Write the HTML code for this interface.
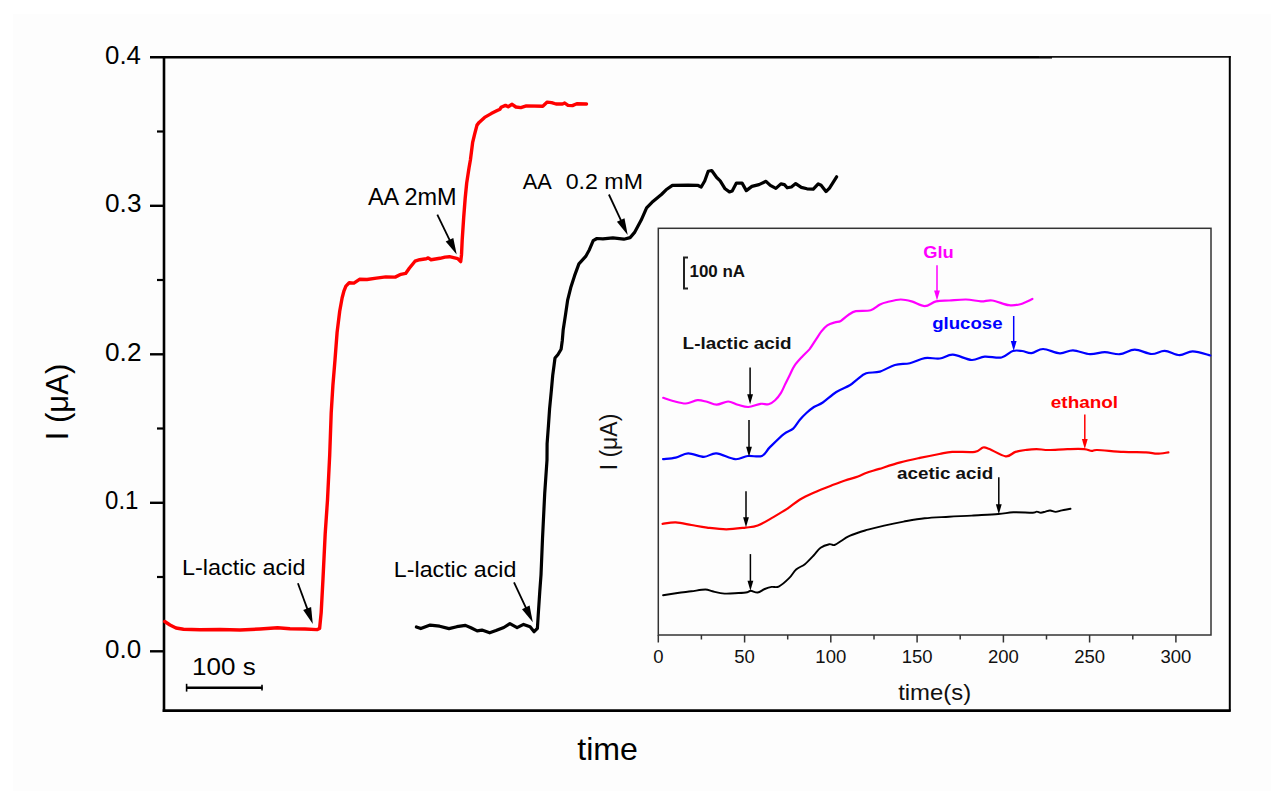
<!DOCTYPE html>
<html><head><meta charset="utf-8"><style>
html,body{margin:0;padding:0;background:#fff;}
svg{display:block;font-family:"Liberation Sans",sans-serif;}
</style></head><body>
<svg width="1276" height="802" viewBox="0 0 1276 802">
<rect width="1276" height="802" fill="#fff"/>
<rect x="13" y="14" width="1258" height="777" fill="#fdfdfd"/>
<line x1="164.0" y1="56.099999999999994" x2="164.0" y2="711.9" stroke="#000" stroke-width="2.6"/>
<line x1="162.7" y1="710.6" x2="1230.6" y2="710.6" stroke="#000" stroke-width="2.6"/>
<line x1="150" y1="57.3" x2="1052" y2="57.3" stroke="#000" stroke-width="2.4"/>
<line x1="1039" y1="56.9" x2="1230.6" y2="56.9" stroke="#111" stroke-width="1.8"/>
<line x1="1229.8" y1="56.099999999999994" x2="1229.8" y2="711.6" stroke="#000" stroke-width="2"/>
<line x1="150" y1="651.3" x2="164.0" y2="651.3" stroke="#000" stroke-width="2.4"/>
<text x="105.06" y="657.90" font-size="26" font-weight="normal" fill="#000" textLength="36.18" lengthAdjust="spacingAndGlyphs" >0.0</text>
<line x1="150" y1="502.8" x2="164.0" y2="502.8" stroke="#000" stroke-width="2.4"/>
<text x="105.06" y="509.40" font-size="26" font-weight="normal" fill="#000" textLength="33.44" lengthAdjust="spacingAndGlyphs" >0.1</text>
<line x1="150" y1="354.3" x2="164.0" y2="354.3" stroke="#000" stroke-width="2.4"/>
<text x="105.06" y="360.90" font-size="26" font-weight="normal" fill="#000" textLength="36.44" lengthAdjust="spacingAndGlyphs" >0.2</text>
<line x1="150" y1="205.8" x2="164.0" y2="205.8" stroke="#000" stroke-width="2.4"/>
<text x="105.06" y="212.40" font-size="26" font-weight="normal" fill="#000" textLength="36.44" lengthAdjust="spacingAndGlyphs" >0.3</text>
<text x="105.06" y="63.90" font-size="26" font-weight="normal" fill="#000" textLength="35.92" lengthAdjust="spacingAndGlyphs" >0.4</text>
<line x1="157" y1="577.0" x2="164.0" y2="577.0" stroke="#000" stroke-width="2.2"/>
<line x1="157" y1="428.5" x2="164.0" y2="428.5" stroke="#000" stroke-width="2.2"/>
<line x1="157" y1="280.0" x2="164.0" y2="280.0" stroke="#000" stroke-width="2.2"/>
<line x1="157" y1="131.5" x2="164.0" y2="131.5" stroke="#000" stroke-width="2.2"/>
<text transform="translate(68,402) rotate(-90)" font-size="31" text-anchor="middle" fill="#000">I (μA)</text>
<text x="577.28" y="760.10" font-size="32" font-weight="normal" fill="#000" textLength="60.69" lengthAdjust="spacingAndGlyphs" >time</text>
<line x1="186" y1="687.7" x2="262.5" y2="687.7" stroke="#000" stroke-width="2.6"/>
<line x1="186.6" y1="683.8" x2="186.6" y2="691.6" stroke="#000" stroke-width="1.6"/>
<line x1="262" y1="684.8" x2="262" y2="690.6" stroke="#000" stroke-width="1.6"/>
<text x="192.13" y="675.00" font-size="24.6" font-weight="normal" fill="#000" textLength="63.56" lengthAdjust="spacingAndGlyphs" >100 s</text>
<polyline points="164.7,621.5 170.0,625.0 176.0,628.0 183.5,629.2 200.0,629.8 220.0,629.5 240.0,630.0 260.0,629.0 277.5,627.8 290.0,628.8 305.0,629.0 317.0,629.6 319.6,628.5 321.2,612.3 323.0,578.6 325.2,533.7 327.5,500.0 329.7,455.0 331.2,412.9 332.9,385.3 335.0,359.9 337.1,332.4 339.7,311.2 342.1,298.0 344.0,290.8 345.9,286.1 349.2,282.8 353.9,283.1 359.5,279.3 367.0,279.5 376.4,278.1 385.8,276.9 395.2,277.1 400.9,274.3 405.6,273.4 409.3,268.2 415.0,261.2 419.7,259.7 426.3,258.8 428.2,257.9 431.0,259.7 440.0,258.3 445.0,257.1 449.5,256.7 457.7,258.6 460.7,261.6 461.5,254.9 462.2,239.9 463.7,217.4 465.2,198.0 466.7,183.0 469.0,168.0 470.4,160.0 472.6,142.7 474.7,133.9 477.0,125.1 479.1,122.4 484.6,117.4 491.2,113.6 496.7,110.8 500.0,109.2 501.1,107.3 505.5,105.4 508.2,106.7 512.1,104.3 515.9,107.0 520.8,107.6 526.3,105.9 542.8,106.2 547.2,102.1 551.6,102.6 556.0,104.0 562.5,104.0 564.7,103.0 568.0,105.4 572.4,105.6 576.8,103.7 586.5,104.0" fill="none" stroke="#ff0000" stroke-width="3.4" stroke-linejoin="round" stroke-linecap="round"/>
<polyline points="416.4,627.0 420.8,628.6 430.2,625.1 439.6,626.2 449.0,628.6 456.8,626.7 465.4,625.4 470.9,627.8 477.2,630.9 481.9,630.1 489.7,632.8 496.0,630.6 503.8,627.5 509.9,623.6 517.1,627.6 523.6,624.4 530.1,626.8 534.1,631.7 537.4,628.4 538.2,615.5 539.8,591.2 541.0,575.0 542.5,538.7 544.7,493.7 547.0,460.0 547.1,443.6 548.4,426.2 549.6,408.7 551.3,391.2 552.7,375.5 554.1,365.0 555.0,358.0 558.0,354.5 561.1,349.2 562.3,340.5 563.2,329.7 565.5,314.8 567.7,299.8 570.7,287.8 574.5,275.9 578.9,263.9 585.7,256.4 589.4,249.7 593.2,240.7 596.9,238.5 602.9,238.8 612.9,237.9 623.8,239.2 630.1,237.6 634.8,232.1 641.1,220.3 646.6,207.8 652.0,202.3 661.4,194.5 666.1,189.8 672.4,185.4 688.1,185.1 697.6,185.3 701.2,187.0 704.7,181.0 708.2,171.2 711.7,170.5 716.7,177.5 720.2,180.8 725.1,188.8 729.4,191.9 732.2,190.9 736.4,183.1 742.1,183.1 746.3,190.6 751.9,186.4 759.0,184.6 766.0,181.3 770.3,185.3 775.9,188.4 780.9,183.9 784.4,184.6 787.2,187.8 791.4,187.0 795.7,183.6 801.3,187.4 807.0,188.8 813.3,189.2 818.2,183.9 821.1,185.3 826.0,191.6 829.5,188.1 836.6,176.8" fill="none" stroke="#000" stroke-width="3.2" stroke-linejoin="round" stroke-linecap="round"/>
<text x="181.99" y="574.50" font-size="22.6" font-weight="normal" fill="#000" textLength="123.48" lengthAdjust="spacingAndGlyphs" >L-lactic acid</text>
<line x1="297.9" y1="583.2" x2="307.5" y2="609.4" stroke="#000" stroke-width="1.8"/><polygon points="312.8,624.0 303.2,609.9 311.1,607.1" fill="#000"/>
<text x="393.89" y="576.80" font-size="22.6" font-weight="normal" fill="#000" textLength="122.48" lengthAdjust="spacingAndGlyphs" >L-lactic acid</text>
<line x1="514.0" y1="582.3" x2="526.2" y2="608.3" stroke="#000" stroke-width="1.8"/><polygon points="532.8,622.3 522.0,609.2 529.6,605.6" fill="#000"/>
<text x="367.90" y="205.00" font-size="23.3" font-weight="normal" fill="#000" textLength="88.73" lengthAdjust="spacingAndGlyphs" >AA 2mM</text>
<line x1="437.3" y1="214.7" x2="449.9" y2="240.7" stroke="#000" stroke-width="1.8"/><polygon points="456.7,254.6 445.7,241.6 453.3,237.9" fill="#000"/>
<text x="522.70" y="189.00" font-size="22" font-weight="normal" fill="#000" textLength="29.09" lengthAdjust="spacingAndGlyphs" >AA</text>
<text x="565.72" y="189.00" font-size="22" font-weight="normal" fill="#000" textLength="77.22" lengthAdjust="spacingAndGlyphs" >0.2 mM</text>
<line x1="608.9" y1="194.5" x2="621.2" y2="220.8" stroke="#000" stroke-width="1.8"/><polygon points="627.7,234.9 616.9,221.7 624.5,218.2" fill="#000"/>
<rect x="658.3" y="228.3" width="552.7" height="406.7" fill="none" stroke="#333" stroke-width="1.5"/>
<line x1="658.3" y1="635.0" x2="658.3" y2="642.5" stroke="#333" stroke-width="1.5"/>
<text x="658.3" y="662.8" font-size="18.5" text-anchor="middle" fill="#111">0</text>
<line x1="701.4" y1="635.0" x2="701.4" y2="639.5" stroke="#333" stroke-width="1.5"/>
<line x1="744.6" y1="635.0" x2="744.6" y2="642.5" stroke="#333" stroke-width="1.5"/>
<text x="744.6" y="662.8" font-size="18.5" text-anchor="middle" fill="#111">50</text>
<line x1="787.7" y1="635.0" x2="787.7" y2="639.5" stroke="#333" stroke-width="1.5"/>
<line x1="830.8" y1="635.0" x2="830.8" y2="642.5" stroke="#333" stroke-width="1.5"/>
<text x="830.8" y="662.8" font-size="18.5" text-anchor="middle" fill="#111">100</text>
<line x1="874.0" y1="635.0" x2="874.0" y2="639.5" stroke="#333" stroke-width="1.5"/>
<line x1="917.1" y1="635.0" x2="917.1" y2="642.5" stroke="#333" stroke-width="1.5"/>
<text x="917.1" y="662.8" font-size="18.5" text-anchor="middle" fill="#111">150</text>
<line x1="960.2" y1="635.0" x2="960.2" y2="639.5" stroke="#333" stroke-width="1.5"/>
<line x1="1003.4" y1="635.0" x2="1003.4" y2="642.5" stroke="#333" stroke-width="1.5"/>
<text x="1003.4" y="662.8" font-size="18.5" text-anchor="middle" fill="#111">200</text>
<line x1="1046.5" y1="635.0" x2="1046.5" y2="639.5" stroke="#333" stroke-width="1.5"/>
<line x1="1089.6" y1="635.0" x2="1089.6" y2="642.5" stroke="#333" stroke-width="1.5"/>
<text x="1089.6" y="662.8" font-size="18.5" text-anchor="middle" fill="#111">250</text>
<line x1="1132.8" y1="635.0" x2="1132.8" y2="639.5" stroke="#333" stroke-width="1.5"/>
<line x1="1175.9" y1="635.0" x2="1175.9" y2="642.5" stroke="#333" stroke-width="1.5"/>
<text x="1175.9" y="662.8" font-size="18.5" text-anchor="middle" fill="#111">300</text>
<text x="898.17" y="699.80" font-size="22.5" font-weight="normal" fill="#111" textLength="72.99" lengthAdjust="spacingAndGlyphs" >time(s)</text>
<text transform="translate(617,442) rotate(-90)" font-size="23" text-anchor="middle" fill="#111">I (μA)</text>
<path d="M688,257.5 H684 V288.6 H688" fill="none" stroke="#222" stroke-width="2"/>
<text x="689.51" y="277.40" font-size="16.5" font-weight="bold" fill="#111" textLength="55.60" lengthAdjust="spacingAndGlyphs" >100 nA</text>
<path d="M663.2,397.8 C664.8,398.3 669.2,400.1 673.0,401.0 C676.8,401.9 681.9,403.6 685.9,403.5 C689.9,403.4 693.8,400.5 697.3,400.2 C700.8,399.9 703.8,401.1 707.0,401.8 C710.2,402.6 713.2,404.8 716.7,404.7 C720.2,404.6 724.6,401.5 728.1,401.5 C731.6,401.5 734.4,403.8 737.8,404.7 C741.2,405.6 744.5,407.1 748.3,407.0 C752.1,406.9 757.1,404.2 760.5,403.8 C763.9,403.4 766.2,404.9 768.6,404.3 C771.0,403.7 773.0,402.1 775.1,400.2 C777.2,398.3 779.3,395.5 781.0,392.8 C782.7,390.1 783.9,386.8 785.4,383.8 C786.9,380.8 788.4,377.8 789.9,374.8 C791.4,371.8 792.4,368.8 794.4,365.8 C796.4,362.8 799.4,359.6 801.9,356.9 C804.4,354.2 807.1,352.1 809.4,349.4 C811.6,346.6 813.4,343.4 815.4,340.4 C817.4,337.4 819.4,333.9 821.4,331.4 C823.4,328.9 825.1,326.9 827.3,325.4 C829.5,323.9 832.5,323.1 834.8,322.4 C837.0,321.6 838.5,322.1 840.8,320.9 C843.0,319.7 845.8,316.6 848.3,315.0 C850.8,313.4 852.1,312.0 855.8,311.2 C859.5,310.4 866.7,311.3 870.7,310.2 C874.7,309.1 877.2,305.9 880.0,304.5 C882.8,303.1 884.0,302.8 887.4,302.0 C890.8,301.2 896.5,299.6 900.5,299.5 C904.5,299.4 907.7,300.3 911.7,301.4 C915.8,302.5 920.7,306.1 924.8,306.1 C928.9,306.1 932.0,302.3 936.1,301.4 C940.2,300.5 944.2,300.8 949.2,300.5 C954.2,300.2 960.7,299.4 966.0,299.5 C971.3,299.6 976.6,301.2 981.0,301.4 C985.4,301.6 987.5,299.9 992.2,300.5 C996.9,301.1 1004.3,304.6 1009.0,305.2 C1013.7,305.8 1016.4,305.2 1020.3,304.2 C1024.2,303.2 1030.4,299.9 1032.4,299.0" fill="none" stroke="#ff00ff" stroke-width="2.2" stroke-linejoin="round" stroke-linecap="round"/>
<path d="M663.1,459.2 C665.2,458.9 671.5,458.6 675.7,457.6 C679.9,456.6 683.5,453.5 688.2,453.4 C692.9,453.3 699.2,456.8 703.9,456.8 C708.6,456.8 711.2,453.0 716.4,453.4 C721.6,453.8 730.0,458.8 735.2,459.2 C740.4,459.6 743.3,456.5 747.8,456.0 C752.2,455.5 758.2,457.4 761.9,456.0 C765.5,454.6 766.1,451.0 769.7,447.4 C773.4,443.8 779.9,437.2 783.8,434.1 C787.7,431.0 790.6,431.0 793.2,428.6 C795.9,426.2 797.5,422.6 799.7,420.0 C801.9,417.4 804.0,415.2 806.4,413.0 C808.8,410.8 811.2,408.8 813.9,407.0 C816.6,405.2 819.1,405.0 822.8,402.5 C826.5,400.0 831.8,394.9 836.3,392.0 C840.8,389.1 846.3,387.4 849.8,385.3 C853.3,383.2 854.6,381.3 857.3,379.3 C860.0,377.3 862.4,374.6 866.2,373.3 C870.0,372.0 875.1,373.0 879.9,371.6 C884.7,370.2 889.9,366.4 894.9,365.0 C899.9,363.6 904.9,364.3 909.9,363.2 C914.9,362.1 919.8,358.9 924.8,358.1 C929.8,357.3 935.1,359.1 939.8,358.5 C944.5,357.9 947.6,354.4 952.9,354.7 C958.2,354.9 966.3,359.7 971.6,360.0 C976.9,360.3 979.7,357.0 984.7,356.6 C989.7,356.2 996.8,358.4 1001.5,357.5 C1006.2,356.6 1009.4,352.1 1012.8,351.0 C1016.2,349.9 1019.0,350.6 1022.1,351.0 C1025.2,351.4 1028.0,353.5 1031.5,353.2 C1035.0,352.9 1038.4,349.0 1043.1,349.0 C1047.8,349.0 1054.9,353.1 1059.9,353.3 C1064.9,353.5 1068.0,350.2 1073.0,350.3 C1078.0,350.4 1084.6,353.9 1089.9,354.2 C1095.2,354.5 1099.8,352.2 1104.8,352.2 C1109.8,352.2 1114.8,354.6 1119.8,354.2 C1124.8,353.8 1129.5,349.6 1134.8,349.6 C1140.1,349.6 1146.6,353.8 1151.6,354.0 C1156.6,354.2 1160.0,350.7 1164.7,350.9 C1169.4,351.1 1174.9,355.1 1179.6,355.2 C1184.3,355.3 1187.6,351.3 1192.7,351.4 C1197.8,351.4 1207.4,354.8 1210.3,355.5" fill="none" stroke="#0000ff" stroke-width="2.2" stroke-linejoin="round" stroke-linecap="round"/>
<path d="M662.6,523.8 C664.8,523.6 670.9,522.2 675.7,522.4 C680.5,522.6 686.2,524.1 691.4,525.0 C696.6,525.9 701.3,526.9 707.1,527.6 C712.9,528.3 719.9,529.3 726.3,529.3 C732.7,529.3 740.3,528.2 745.5,527.6 C750.7,527.0 753.1,527.2 757.7,525.5 C762.4,523.8 768.5,519.9 773.4,517.1 C778.3,514.3 783.0,511.6 787.4,508.7 C791.8,505.8 795.2,502.4 799.6,499.7 C804.0,497.0 808.4,495.0 813.6,492.7 C818.8,490.4 825.8,487.7 831.0,485.7 C836.2,483.7 840.5,482.0 845.0,480.5 C849.5,479.0 854.5,477.8 858.0,476.5 C861.5,475.2 862.5,474.3 866.0,473.0 C869.5,471.7 873.6,470.7 879.3,468.9 C885.0,467.1 893.6,464.2 900.4,462.4 C907.1,460.6 913.3,459.3 919.8,457.9 C926.3,456.5 933.9,455.0 939.3,454.0 C944.7,453.0 946.3,452.2 952.2,451.9 C958.1,451.5 969.8,452.6 974.9,451.9 C980.0,451.2 980.6,448.0 983.0,447.5 C985.4,447.0 985.7,447.6 989.5,449.1 C993.3,450.6 1001.4,455.8 1005.7,456.3 C1010.0,456.8 1012.0,453.0 1015.5,451.9 C1019.0,450.8 1023.3,450.3 1026.8,449.8 C1030.3,449.3 1032.8,449.1 1036.5,449.1 C1040.2,449.1 1043.5,450.0 1048.7,450.0 C1053.9,450.0 1061.5,449.2 1067.4,449.1 C1073.3,449.0 1080.2,448.8 1084.2,449.1 C1088.2,449.4 1089.5,450.8 1091.7,450.9 C1093.9,451.0 1092.0,449.8 1097.3,450.0 C1102.6,450.2 1115.4,451.5 1123.5,451.9 C1131.6,452.3 1140.4,452.1 1146.0,452.4 C1151.6,452.7 1153.5,453.7 1157.2,453.7 C1160.9,453.7 1166.5,452.6 1168.4,452.4" fill="none" stroke="#ff0000" stroke-width="2.2" stroke-linejoin="round" stroke-linecap="round"/>
<path d="M663.1,595.3 C665.5,594.9 672.8,593.7 677.5,593.0 C682.2,592.3 686.8,591.9 691.4,591.3 C696.0,590.7 701.9,589.5 705.4,589.5 C708.9,589.5 709.2,590.6 712.4,591.3 C715.6,592.0 720.2,593.3 724.6,593.6 C729.0,593.9 734.7,593.2 738.5,593.0 C742.3,592.8 745.2,592.6 747.3,592.2 C749.3,591.8 749.1,590.8 750.8,590.8 C752.5,590.8 755.4,592.8 757.7,592.5 C760.0,592.2 762.4,589.9 764.7,589.0 C767.0,588.1 769.4,587.3 771.7,586.9 C774.0,586.5 775.8,588.0 778.7,586.6 C781.6,585.2 786.2,581.1 789.1,578.2 C792.0,575.4 793.5,571.8 796.1,569.5 C798.7,567.2 802.0,566.5 804.9,564.2 C807.8,561.9 811.0,558.2 813.6,555.5 C816.2,552.8 818.0,549.6 820.6,547.7 C823.2,545.8 827.0,544.7 829.3,544.2 C831.6,543.8 832.5,545.6 834.5,545.0 C836.5,544.4 839.2,542.2 841.5,540.7 C843.8,539.2 845.4,537.8 848.5,536.3 C851.6,534.8 856.8,533.1 860.0,532.0 C863.2,530.9 864.0,530.8 868.0,529.7 C872.0,528.6 878.3,527.0 884.2,525.6 C890.1,524.2 896.9,522.8 903.6,521.6 C910.4,520.4 917.1,519.1 924.7,518.3 C932.3,517.5 941.2,517.2 949.0,516.7 C956.8,516.2 963.5,516.1 971.7,515.6 C979.9,515.1 991.5,514.5 998.4,514.0 C1005.3,513.5 1007.5,512.5 1013.3,512.3 C1019.0,512.1 1029.0,512.8 1032.9,512.7 C1036.8,512.6 1035.5,511.6 1036.8,511.6 C1038.1,511.6 1039.3,512.7 1040.8,512.7 C1042.2,512.7 1043.9,512.0 1045.5,511.6 C1047.1,511.2 1048.5,510.4 1050.2,510.5 C1051.9,510.6 1053.6,511.9 1055.6,511.9 C1057.5,511.9 1059.4,510.9 1061.9,510.4 C1064.4,509.9 1069.1,509.1 1070.5,508.8" fill="none" stroke="#000" stroke-width="1.9" stroke-linejoin="round" stroke-linecap="round"/>
<text x="682.61" y="348.50" font-size="17" font-weight="bold" fill="#111" textLength="109.00" lengthAdjust="spacingAndGlyphs" >L-lactic acid</text>
<line x1="750.1" y1="367.5" x2="750.1" y2="395.3" stroke="#000" stroke-width="1.5"/><polygon points="750.1,404.3 747.2,394.3 753.0,394.3" fill="#000"/>
<line x1="749.0" y1="420.0" x2="749.0" y2="447.8" stroke="#000" stroke-width="1.5"/><polygon points="749.0,456.8 746.1,446.8 751.9,446.8" fill="#000"/>
<line x1="746.0" y1="491.3" x2="746.0" y2="518.2" stroke="#000" stroke-width="1.5"/><polygon points="746.0,527.2 743.1,517.2 748.9,517.2" fill="#000"/>
<line x1="750.4" y1="554.1" x2="750.4" y2="581.8" stroke="#000" stroke-width="1.5"/><polygon points="750.4,590.8 747.5,580.8 753.3,580.8" fill="#000"/>
<line x1="937.0" y1="265.3" x2="937.0" y2="291.5" stroke="#ff00ff" stroke-width="1.5"/><polygon points="937.0,300.5 934.1,290.5 939.9,290.5" fill="#ff00ff"/>
<line x1="1013.7" y1="316.0" x2="1013.7" y2="342.0" stroke="#0000ff" stroke-width="1.5"/><polygon points="1013.7,351.0 1010.8,341.0 1016.6,341.0" fill="#0000ff"/>
<line x1="1084.8" y1="414.5" x2="1084.8" y2="440.0" stroke="#ff0000" stroke-width="1.5"/><polygon points="1084.8,449.0 1081.9,439.0 1087.7,439.0" fill="#ff0000"/>
<line x1="998.8" y1="477.3" x2="998.8" y2="505.3" stroke="#000" stroke-width="1.5"/><polygon points="998.8,514.3 995.9,504.3 1001.7,504.3" fill="#000"/>
<text x="923.26" y="257.80" font-size="16" font-weight="bold" fill="#ff00ff" textLength="30.54" lengthAdjust="spacingAndGlyphs" >Glu</text>
<text x="932.22" y="328.50" font-size="17" font-weight="bold" fill="#0000ff" textLength="70.33" lengthAdjust="spacingAndGlyphs" >glucose</text>
<text x="1050.82" y="407.90" font-size="17" font-weight="bold" fill="#ff0000" textLength="67.29" lengthAdjust="spacingAndGlyphs" >ethanol</text>
<text x="897.09" y="479.40" font-size="17" font-weight="bold" fill="#111" textLength="96.19" lengthAdjust="spacingAndGlyphs" >acetic acid</text>
</svg>
</body></html>
